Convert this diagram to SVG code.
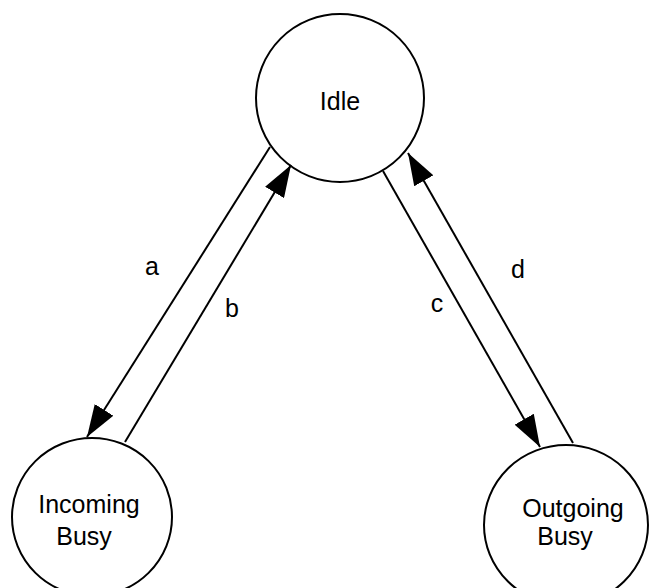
<svg xmlns="http://www.w3.org/2000/svg" width="650" height="588" viewBox="0 0 650 588">
<style>
.node{fill:#fff;stroke:#000;stroke-width:2}
.lbl{font-family:"Liberation Sans",Arial,sans-serif;font-size:25px;fill:#000;text-anchor:middle}
.edge{stroke:#000;stroke-width:2;fill:none;marker-end:url(#arr)}
</style>
<defs>
<marker id="arr" markerUnits="userSpaceOnUse" markerWidth="33" markerHeight="22" refX="32" refY="11" orient="auto" viewBox="0 0 33 22">
<path d="M0,0 L32,11 L0,22 z" fill="#000"/>
</marker>
</defs>
<rect width="650" height="588" fill="#fff"/>
<g id="idle">
<circle class="node" cx="340" cy="98" r="84"/>
<text class="lbl" x="340" y="110">Idle</text>
</g>
<g id="incoming">
<ellipse class="node" cx="92" cy="517" rx="80" ry="79"/>
<text class="lbl" x="89" y="513">Incoming</text>
<text class="lbl" x="84" y="545">Busy</text>
</g>
<g id="outgoing">
<ellipse class="node" cx="566" cy="525" rx="82" ry="80"/>
<text class="lbl" x="573" y="517">Outgoing</text>
<text class="lbl" x="565" y="545">Busy</text>
</g>
<g id="connectors">
<line class="edge" x1="270" y1="147" x2="87" y2="437"/>
<line class="edge" x1="125" y1="442" x2="291" y2="165"/>
<line class="edge" x1="383" y1="171" x2="540" y2="447"/>
<line class="edge" x1="573" y1="443" x2="408" y2="153"/>
<text class="lbl" x="152" y="275">a</text>
<text class="lbl" x="232" y="317">b</text>
<text class="lbl" x="437" y="312">c</text>
<text class="lbl" x="518" y="278">d</text>
</g>
</svg>
